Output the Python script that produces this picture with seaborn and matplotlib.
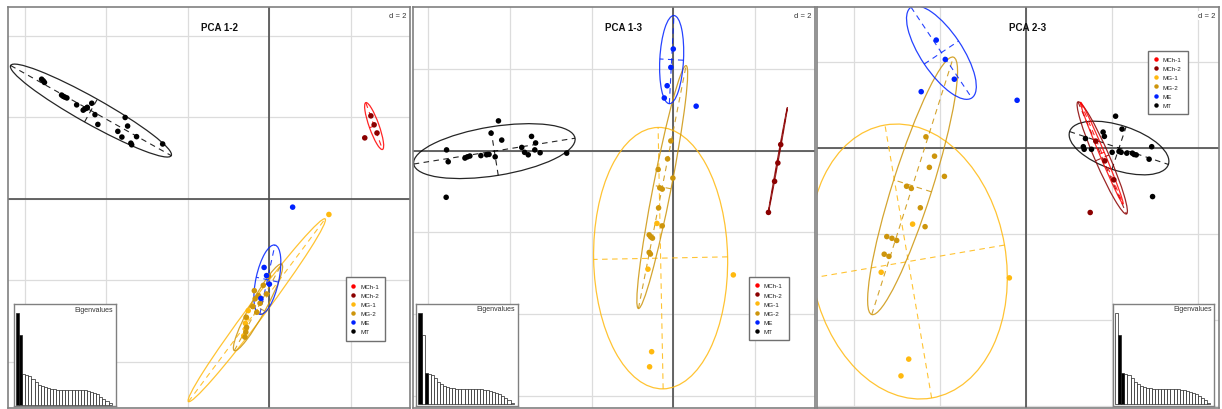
import numpy as np
import pandas as pd
import matplotlib
matplotlib.use("Agg")
import matplotlib.pyplot as plt
import seaborn as sns
from matplotlib.patches import Ellipse
from matplotlib.lines import Line2D

# ---------------- data ----------------
groups = ["MCh-1", "MCh-2", "MG-1", "MG-2", "ME", "MT"]
group_colors = ["#FF0000", "#8B0000", "#FFB90F", "#CD950C", "#0022FF", "#000000"]

eigenvalues = [1.0, 0.757, 0.337, 0.330, 0.319, 0.284, 0.248, 0.222, 0.205, 0.193,
               0.183, 0.177, 0.172, 0.168, 0.166, 0.166, 0.166, 0.166, 0.165, 0.165,
               0.164, 0.162, 0.158, 0.150, 0.138, 0.125, 0.118, 0.090, 0.068, 0.045, 0.020]

# PCA 1-2 scores
p12_group = (["MCh-2"] * 4 + ["MG-1"] * 7 + ["MG-2"] * 13 + ["ME"] * 5 + ["MT"] * 23)
p12_x = [2.50, 2.58, 2.65, 2.35,
         1.47, -0.40, -0.51, -0.55, -0.62, -0.58, -0.57,
         -0.36, -0.26, -0.06, -0.34, -0.22, -0.30, -0.40, -0.56, -0.55, -0.57, -0.59, -0.14, -0.01,
         0.58, -0.12, -0.06, 0.01, -0.20,
         -5.58, -5.54, -5.51, -5.09, -5.05, -5.01, -4.96, -4.72, -4.56, -4.52, -4.47, -4.46,
         -4.35, -4.27, -4.20, -3.53, -3.47, -3.71, -3.61, -3.25, -3.39, -3.37, -2.61]
p12_y = [2.04, 1.82, 1.62, 1.50,
         -0.38, -2.63, -2.74, -2.92, -3.36, -3.05, -3.20,
         -2.25, -2.37, -2.33, -2.45, -2.56, -2.78, -2.64, -2.90, -3.15, -3.27, -3.39, -2.12, -1.89,
         -0.20, -1.68, -1.88, -2.09, -2.44,
         2.94, 2.90, 2.86, 2.55, 2.52, 2.50, 2.48, 2.31, 2.18, 2.21, 2.23, 2.25,
         2.35, 2.07, 1.83, 2.00, 1.79, 1.66, 1.52, 1.53, 1.37, 1.33, 1.35]

# PCA 1-3 scores
p13_group = (["MCh-2"] * 4 + ["MG-1"] * 5 + ["MG-2"] * 13 + ["ME"] * 5 + ["MT"] * 21)
p13_x = [2.63, 2.56, 2.48, 2.33,
         -0.40, -0.62, 1.47, -0.53, -0.58,
         -0.06, -0.14, -0.37, -0.01, -0.33, -0.27, -0.36, -0.27, -0.59, -0.55, -0.51, -0.59, -0.56,
         0.00, -0.06, -0.15, -0.22, 0.56,
         -4.28, -4.46, -4.20, -3.47, -3.37, -3.71, -3.64, -3.55, -3.39, -3.26, -2.61,
         -5.55, -5.51, -5.10, -5.04, -4.98, -4.71, -4.57, -4.51, -4.36, -5.56]
p13_y = [0.15, -0.30, -0.75, -1.51,
         -1.78, -2.90, -3.04, -4.92, -5.29,
         0.24, -0.20, -0.46, -0.67, -0.91, -0.94, -1.40, -1.84, -2.06, -2.11, -2.14, -2.49, -2.53,
         2.49, 2.04, 1.59, 1.29, 1.09,
         0.73, 0.43, 0.26, 0.35, 0.19, 0.08, -0.04, -0.10, 0.02, -0.05, -0.06,
         0.02, -0.27, -0.18, -0.15, -0.13, -0.12, -0.10, -0.09, -0.15, -1.14]

# PCA 2-3 scores
p23_group = (["MCh-2"] * 4 + ["MG-1"] * 5 + ["MG-2"] * 13 + ["ME"] * 5 + ["MT"] * 18)
p23_x = [1.63, 1.84, 2.05, 1.50,
         -2.63, -3.36, -0.38, -2.72, -2.90,
         -2.32, -2.12, -2.24, -1.89, -2.77, -2.66, -2.45, -2.34, -3.23, -3.11, -3.00, -3.29, -3.18,
         -2.08, -1.87, -1.66, -2.43, -0.20,
         2.09, 2.24, 1.80, 1.83, 1.39, 1.34, 1.36, 1.53, 2.01, 2.17, 2.22, 2.35, 2.48, 2.52, 2.57,
         2.93, 2.87, 2.95]
p23_y = [0.16, -0.30, -0.74, -1.50,
         -1.77, -2.89, -3.02, -4.91, -5.30,
         0.26, -0.19, -0.45, -0.66, -0.89, -0.94, -1.39, -1.83, -2.06, -2.10, -2.15, -2.47, -2.52,
         2.51, 2.06, 1.60, 1.31, 1.11,
         0.74, 0.44, 0.37, 0.27, 0.22, 0.03, -0.03, -0.03, -0.10, -0.08, -0.10, -0.12, -0.12, -0.15,
         -0.16, 0.03, -0.26, -1.13]

# ellipses: group, centre x, centre y, semi-axis a, semi-axis b, angle (deg)
e12_group = ["MT", "MCh-1", "MG-1", "MG-2", "ME"]
e12_cx = [-4.37, 2.58, -0.30, -0.27, -0.04]
e12_cy = [2.17, 1.79, -2.73, -2.66, -1.98]
e12_a = [2.26, 0.61, 2.80, 1.21, 0.87]
e12_b = [0.32, 0.12, 0.21, 0.19, 0.28]
e12_ang = [-29.3, -70.4, 53.2, 61.3, 77.7]

e13_group = ["MT", "MCh-2", "MG-1", "MG-2", "ME"]
e13_cx = [-4.38, 2.56, -0.31, -0.27, -0.04]
e13_cy = [-0.01, -0.23, -2.63, -0.89, 2.23]
e13_a = [2.00, 1.31, 3.20, 3.03, 1.08]
e13_b = [0.60, 0.012, 1.64, 0.22, 0.29]
e13_ang = [9.1, 79.7, 91.1, 78.9, 87.0]

e23_group = ["MT", "MCh-2", "MCh-1", "MG-1", "MG-2", "ME"]
e23_cx = [2.17, 1.78, 1.77, -2.73, -2.63, -1.96]
e23_cy = [0.00, -0.23, -0.12, -2.64, -0.88, 2.22]
e23_a = [1.21, 1.42, 1.28, 3.22, 3.14, 1.27]
e23_b = [0.52, 0.17, 0.06, 2.27, 0.46, 0.48]
e23_ang = [-18.4, -66.6, -67.3, 99.7, 72.4, -56.2]

titles = ["PCA 1-2", "PCA 1-3", "PCA 2-3"]
selected_axes = [[0, 1], [0, 2], [1, 2]]

# ---------------- drawing ----------------
sns.set_theme(style="white")
plt.rcParams["font.family"] = ["Liberation Sans", "DejaVu Sans"]

W, H = 1222, 410
fig = plt.figure(figsize=(W / 100, H / 100), dpi=100)
fig.patch.set_facecolor("white")


def px_axes(l, t, w, h):
    return fig.add_axes([l / W, 1 - (t + h) / H, w / W, h / H])


pal = dict(zip(groups, group_colors))

panels = [
    dict(pts=(p12_group, p12_x, p12_y),
         ell=(e12_group, e12_cx, e12_cy, e12_a, e12_b, e12_ang),
         rect=(8, 7.5, 402, 401), xlim=(-6.405, 3.460), ylim=(-5.117, 4.724),
         leg=(0.840, 0.325), inset=(13.5, 305, 102, 102)),
    dict(pts=(p13_group, p13_x, p13_y),
         ell=(e13_group, e13_cx, e13_cy, e13_a, e13_b, e13_ang),
         rect=(412.5, 7.5, 402, 401), xlim=(-6.384, 3.457), ylim=(-6.286, 3.530),
         leg=(0.838, 0.326), inset=(416, 304.5, 101.5, 102)),
    dict(pts=(p23_group, p23_x, p23_y),
         ell=(e23_group, e23_cx, e23_cy, e23_a, e23_b, e23_ang),
         rect=(817, 7.5, 402, 401), xlim=(-4.853, 4.495), ylim=(-6.035, 3.291),
         leg=(0.8245, 0.890), inset=(1112.7, 304.5, 101.5, 102)),
]

for k, P in enumerate(panels):
    ax = px_axes(*P["rect"])
    ax.set_facecolor("white")
    ticks = np.arange(-8, 9, 2)
    ax.set_xticks(ticks)
    ax.set_yticks(ticks)
    ax.tick_params(length=0, labelbottom=False, labelleft=False)
    ax.grid(True, color="#DCDCDC", lw=0.9, zorder=0)
    ax.set_axisbelow(True)
    ax.axhline(0, color="#4D4D4D", lw=1.2, zorder=1)
    ax.axvline(0, color="#4D4D4D", lw=1.2, zorder=1)
    for s in ax.spines.values():
        s.set_color("#808080")
        s.set_linewidth(1.2)

    # ellipses with their dashed axes
    eg, ecx, ecy, ea, eb, eang = P["ell"]
    for g, cx, cy, a, b, ang in zip(eg, ecx, ecy, ea, eb, eang):
        col = pal[g]
        ax.add_patch(Ellipse((cx, cy), 2 * a, 2 * b, angle=ang, fill=False,
                             edgecolor=col, lw=0.9, alpha=0.85, zorder=2))
        t = np.deg2rad(ang)
        ux, uy = np.cos(t), np.sin(t)
        ax.plot([cx - a * ux, cx + a * ux], [cy - a * uy, cy + a * uy], color=col,
                lw=0.8, ls=(0, (5, 4)), alpha=0.85, zorder=2)
        ax.plot([cx + b * uy, cx - b * uy], [cy - b * ux, cy + b * ux], color=col,
                lw=0.8, ls=(0, (5, 4)), alpha=0.85, zorder=2)

    g, xs, ys = P["pts"]
    df = pd.DataFrame({"group": g, "x": xs, "y": ys})
    sns.scatterplot(data=df, x="x", y="y", hue="group", hue_order=groups, palette=pal,
                    s=16, linewidth=0, legend=False, ax=ax, zorder=3)
    ax.set_xlabel("")
    ax.set_ylabel("")
    ax.set_xlim(*P["xlim"])
    ax.set_ylim(*P["ylim"])

    ax.text(0.525, 0.948, titles[k], transform=ax.transAxes, ha="center", va="center",
            fontsize=7, fontweight="bold", color="#111111")
    ax.text(0.992, 0.986, "d = 2", transform=ax.transAxes, ha="right", va="top",
            fontsize=5.5, color="#333333",
            bbox=dict(facecolor="white", edgecolor="none", pad=0.5))

    handles = [Line2D([], [], marker="o", ls="", color=c, markersize=2.2, label=gname)
               for gname, c in zip(groups, group_colors)]
    leg = ax.legend(handles=handles, loc="upper left", bbox_to_anchor=P["leg"],
                    borderaxespad=0, fontsize=4.5, frameon=True, fancybox=False,
                    borderpad=1.0, labelspacing=0.6, handlelength=0.4,
                    handletextpad=0.9)
    leg.get_frame().set_edgecolor("#707070")
    leg.get_frame().set_linewidth(1.0)
    leg.get_frame().set_alpha(1)
    for txt in leg.get_texts():
        txt.set_color("#222222")

    # eigenvalue inset
    ins = px_axes(*P["inset"])
    ins.set_facecolor("white")
    edf = pd.DataFrame({"rank": np.arange(len(eigenvalues)), "eig": eigenvalues,
                        "sel": [i in selected_axes[k] for i in range(len(eigenvalues))]})
    sns.barplot(data=edf, x="rank", y="eig", hue="sel", palette={True: "black", False: "white"},
                dodge=False, width=1.0, edgecolor="#222222", linewidth=0.5, legend=False,
                ax=ins)
    ins.set_xlim(-1.31, 31.76)
    ins.set_ylim(-0.011, 1.098)
    ins.set_xticks([])
    ins.set_yticks([])
    ins.set_xlabel("")
    ins.set_ylabel("")
    for s in ins.spines.values():
        s.set_color("#808080")
        s.set_linewidth(1.0)
    ins.text(0.975, 0.985, "Eigenvalues", transform=ins.transAxes, ha="right", va="top",
             fontsize=5, color="#333333")

fig.savefig("out.png", dpi=100, facecolor="white")
